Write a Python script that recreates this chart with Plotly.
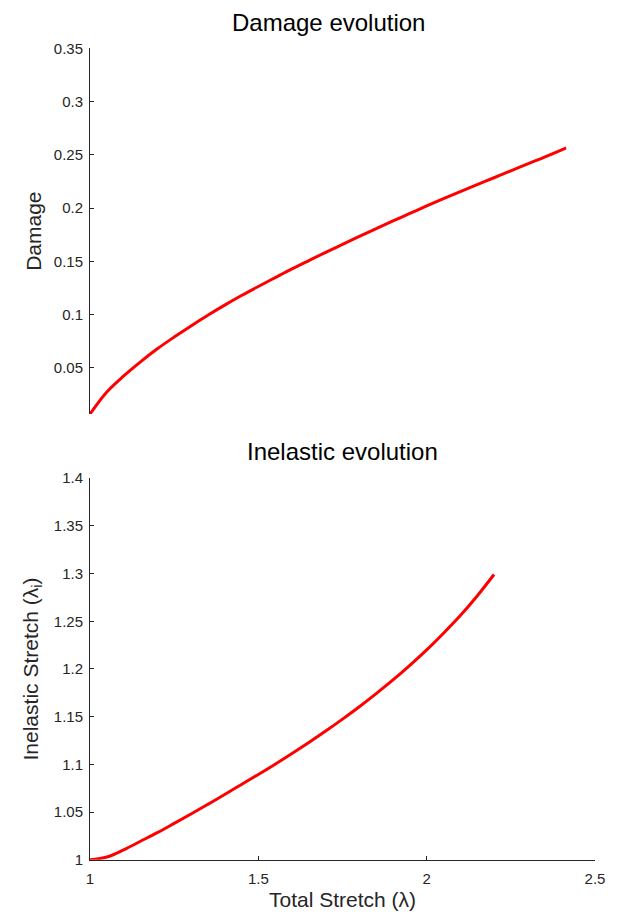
import plotly.graph_objects as go

# ---- data ----
stretch_damage = [1.0, 1.05, 1.1, 1.15, 1.2, 1.25, 1.3, 1.35, 1.4, 1.45, 1.5, 1.55, 1.6, 1.65,
                  1.7, 1.75, 1.8, 1.85, 1.9, 1.95, 2.0, 2.05, 2.1, 2.15, 2.2, 2.25, 2.3, 2.35, 2.415]
damage = [0.0068, 0.0275, 0.0425, 0.0558, 0.068, 0.079, 0.0895, 0.0995, 0.109, 0.118, 0.1265,
          0.1348, 0.143, 0.1508, 0.1585, 0.166, 0.1735, 0.1808, 0.188, 0.195, 0.202, 0.2088,
          0.2155, 0.222, 0.2285, 0.235, 0.2415, 0.2478, 0.2565]

stretch_inelastic = [1.0, 1.05, 1.1, 1.15, 1.2, 1.25, 1.3, 1.35, 1.4, 1.45, 1.5, 1.55, 1.6,
                     1.65, 1.7, 1.75, 1.8, 1.85, 1.9, 1.95, 2.0, 2.05, 2.1, 2.15, 2.2]
inelastic = [1.000, 1.003, 1.0105, 1.0195, 1.0285, 1.0382, 1.048, 1.0582, 1.0685, 1.079,
             1.0895, 1.1003, 1.1115, 1.123, 1.135, 1.1475, 1.1605, 1.1742, 1.1885, 1.2038,
             1.220, 1.2375, 1.256, 1.2765, 1.299]

damage_ticks = [0.05, 0.1, 0.15, 0.2, 0.25, 0.3, 0.35]
damage_ticktext = ["0.05", "0.1", "0.15", "0.2", "0.25", "0.3", "0.35"]
inel_ticks = [1.0, 1.05, 1.1, 1.15, 1.2, 1.25, 1.3, 1.35, 1.4]
inel_ticktext = ["1", "1.05", "1.1", "1.15", "1.2", "1.25", "1.3", "1.35", "1.4"]
x_ticks = [1.0, 1.5, 2.0, 2.5]
x_ticktext = ["1", "1.5", "2", "2.5"]

FONT = "Liberation Sans, Arial, sans-serif"
AX = "#262626"
W, H = 618, 914
ML, MR = 90, 23
x_full = [1.0, 2.5]

fig = go.Figure()
fig.add_trace(go.Scatter(x=stretch_damage, y=damage, mode="lines", line_shape="spline",
                         line=dict(color="#ff0000", width=3), xaxis="x", yaxis="y"))
fig.add_trace(go.Scatter(x=stretch_inelastic, y=inelastic, mode="lines", line_shape="spline",
                         line=dict(color="#ff0000", width=3), xaxis="x2", yaxis="y2"))

def py(pix):
    return 1 - pix / H

top_frac = (stretch_damage[-1] - x_full[0]) / (x_full[1] - x_full[0])

common = dict(showgrid=False, zeroline=False, showline=True, linecolor=AX, linewidth=1,
              ticks="inside", ticklen=4, tickcolor=AX,
              tickfont=dict(family=FONT, size=15, color=AX))
title_font = dict(family=FONT, size=21, color=AX)

fig.update_layout(
    width=W, height=H,
    margin=dict(l=ML, r=MR, t=0, b=0),
    paper_bgcolor="white", plot_bgcolor="white",
    showlegend=False,
    xaxis=dict(domain=[0, top_frac], range=[stretch_damage[0], stretch_damage[-1]],
               anchor="y", visible=False),
    yaxis=dict(domain=[py(412.7), py(40)], range=[damage[0], 0.35], anchor="x",
               tickvals=damage_ticks, ticktext=damage_ticktext, ticklabelstandoff=3,
               title=dict(text="Damage", font=title_font, standoff=6),
               **common),
    xaxis2=dict(domain=[0, 1], range=x_full, anchor="y2",
                tickvals=x_ticks, ticktext=x_ticktext, ticklabelstandoff=5,
                title=dict(text="Total Stretch (λ)", font=title_font, standoff=6),
                **common),
    yaxis2=dict(domain=[py(867), py(478)], range=[1.0, 1.4], anchor="x2",
                tickvals=inel_ticks, ticktext=inel_ticktext, ticklabelstandoff=3,
                title=dict(text="Inelastic Stretch (λ<sub>i</sub>)", font=title_font, standoff=9),
                **common),
)

fig.add_annotation(text="Damage evolution", xref="paper", yref="paper",
                   x=top_frac / 2, y=py(30), xanchor="center", yanchor="bottom",
                   showarrow=False, font=dict(family=FONT, size=24, color="#000000"))
fig.add_annotation(text="Inelastic evolution", xref="paper", yref="paper",
                   x=0.5, y=py(467), xanchor="center", yanchor="bottom",
                   showarrow=False, font=dict(family=FONT, size=24, color="#000000"))

fig.write_html("out.html")
